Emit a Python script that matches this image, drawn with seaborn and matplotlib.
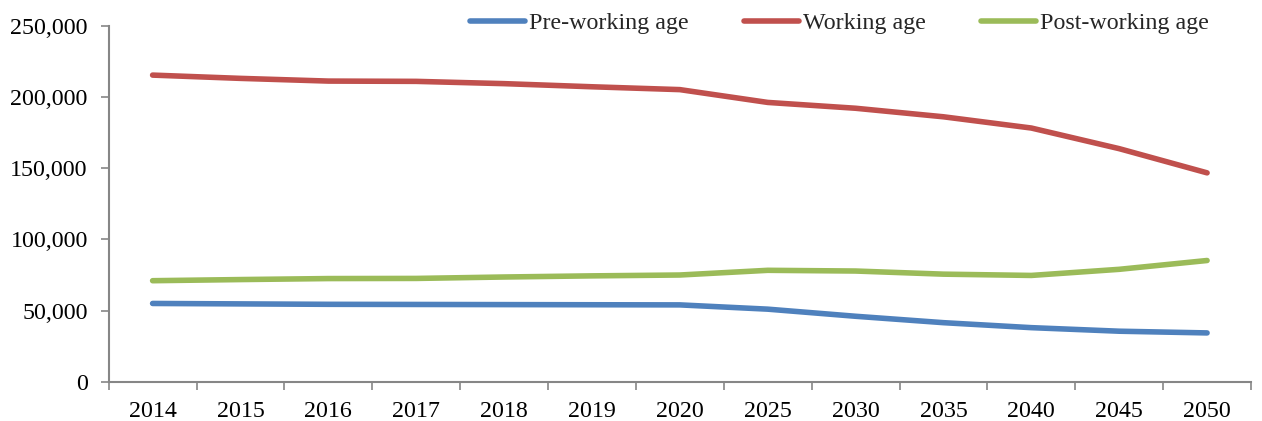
import matplotlib
matplotlib.use("Agg")
import matplotlib.pyplot as plt
import matplotlib.ticker as mticker
import seaborn as sns
import pandas as pd
import numpy as np

years = ["2014", "2015", "2016", "2017", "2018", "2019", "2020",
         "2025", "2030", "2035", "2040", "2045", "2050"]
pre_working = [55000, 54700, 54400, 54300, 54200, 54100, 54000,
               51000, 46000, 41500, 38000, 35500, 34300]
working = [215500, 213200, 211300, 211100, 209500, 207300, 205300,
           196300, 192200, 186200, 178300, 163800, 146800]
post_working = [71000, 71800, 72500, 72600, 73600, 74400, 75000,
                78300, 77800, 75600, 74700, 79000, 85200]
series_names = ["Pre-working age", "Working age", "Post-working age"]
colors = ["#4F81BD", "#C0504D", "#9BBB59"]

df = pd.concat([
    pd.DataFrame({"year": years, "idx": np.arange(len(years)), "value": vals, "group": name})
    for name, vals in zip(series_names, [pre_working, working, post_working])
])

sns.set_theme(style="white")
plt.rcParams["font.family"] = ["Liberation Serif", "DejaVu Serif"]

FS = 17.3
LW = 4.0

fig = plt.figure(figsize=(12.62, 4.21), dpi=100)
ax = fig.add_axes([0.0861, 0.0933, 0.9052, 0.8449])

sns.lineplot(data=df, x="idx", y="value", hue="group", hue_order=series_names,
             palette=colors, linewidth=LW, ax=ax, legend=False,
             solid_capstyle="round", solid_joinstyle="round")

ax.set_xlim(-0.5, len(years) - 0.5)
ax.set_ylim(0, 250000)
ax.yaxis.set_major_locator(mticker.MultipleLocator(50000))
ax.yaxis.set_major_formatter(mticker.FuncFormatter(lambda v, p: f"{int(v):,}"))

# category boundaries carry the tick marks, labels sit at category centres
ax.set_xticks(np.arange(len(years) + 1) - 0.5)
ax.set_xticklabels([])
ax.set_xticks(np.arange(len(years)), minor=True)
ax.set_xticklabels(years, minor=True)
ax.tick_params(axis="x", which="major", length=6, width=1.2, color="#868686", direction="out")
ax.tick_params(axis="x", which="minor", length=0, pad=14, labelsize=FS, labelcolor="black")
ax.tick_params(axis="y", which="major", length=6, width=1.2, color="#868686",
               direction="out", labelsize=FS, labelcolor="black", pad=9)
ax.tick_params(axis="x", bottom=True)
ax.tick_params(axis="y", left=True)

for side in ["top", "right"]:
    ax.spines[side].set_visible(False)
for side in ["left", "bottom"]:
    ax.spines[side].set_color("#868686")
    ax.spines[side].set_linewidth(1.5)

ax.set_xlabel("")
ax.set_ylabel("")
ax.grid(False)

handles = [plt.Line2D([0], [0], color=c, linewidth=LW, solid_capstyle="round") for c in colors]
fig.legend(handles, series_names, loc="center", bbox_to_anchor=(0.665, 0.944),
           ncol=3, frameon=False, fontsize=FS, handlelength=2.3,
           handletextpad=0.15, columnspacing=2.3)

fig.savefig("out.png", dpi=100, facecolor="white")
